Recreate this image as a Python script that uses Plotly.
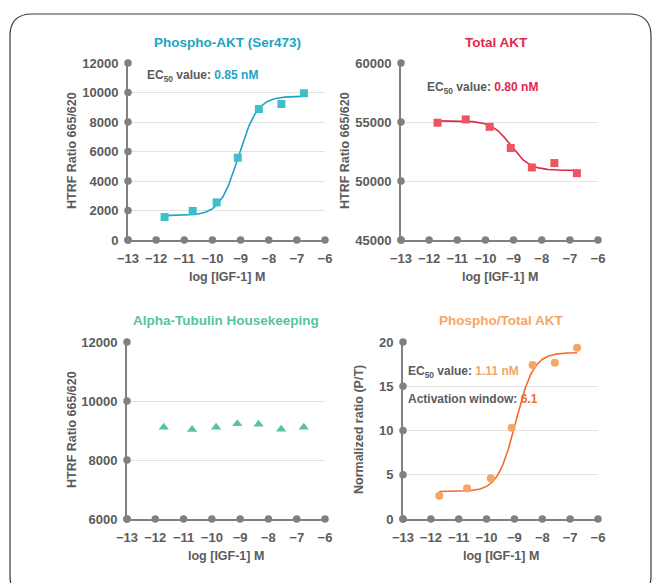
import numpy as np
import plotly.graph_objects as go

W, H = 656, 583

# ---- data -------------------------------------------------------------
log_conc = [-11.7, -10.7, -9.85, -9.1, -8.35, -7.55, -6.75]

phospho_akt = [1560, 1970, 2550, 5580, 8880, 9220, 9950]
total_akt = [54940, 55220, 54590, 52800, 51150, 51520, 50660]
tubulin = [9110, 9030, 9110, 9230, 9210, 9040, 9110]
ratio_pt = [2.63, 3.47, 4.6, 10.3, 17.4, 17.66, 19.36]

x_ticks = [-13, -12, -11, -10, -9, -8, -7, -6]
y_ticks_phospho = [0, 2000, 4000, 6000, 8000, 10000, 12000]
y_ticks_total = [45000, 50000, 55000, 60000]
y_ticks_tubulin = [6000, 8000, 10000, 12000]
y_ticks_ratio = [0, 5, 10, 15, 20]

# four-parameter logistic fits: (bottom, top, EC50 in nM, hill)
fit_phospho = (1650, 9750, 0.85, 1.3)
fit_total = (50900, 55100, 0.80, -1.3)
fit_ratio = (3.1, 18.8, 1.11, 1.35)
activation_window = 6.1

titles = ["Phospho-AKT (Ser473)", "Total AKT", "Alpha-Tubulin Housekeeping", "Phospho/Total AKT"]
y_titles = ["HTRF Ratio 665/620", "HTRF Ratio 665/620", "HTRF Ratio 665/620", "Normalized ratio (P/T)"]
x_title = "log [IGF-1] M"

# ---- styling ----------------------------------------------------------
TEAL, TEAL_L = "#1ea3c2", "#3dbfcc"
RED, RED_L = "#e2284a", "#ec5560"
GREEN = "#55c49c"
ORANGE, ORANGE_L = "#f36b2b", "#f5a566"
TXT = "#5b5b5b"
AX = "#808080"
GRID = "#e3e3e3"
FONT = "Liberation Sans, Arial, sans-serif"


def px(x):
    return x / W


def py(y):
    return 1 - y / H


def four_pl(x, bottom, top, ec50_nm, hill):
    log_ec50 = np.log10(ec50_nm * 1e-9)
    return bottom + (top - bottom) / (1 + 10 ** ((log_ec50 - x) * hill))


# panel plot areas in pixels: (left, right, top, bottom)
areas = [
    (128, 325, 63, 240),
    (401, 598, 63, 240),
    (127, 325, 342, 519),
    (403, 598, 342, 519),
]
y_ranges = [(0, 12000), (45000, 60000), (6000, 12000), (0, 20)]
y_tick_sets = [y_ticks_phospho, y_ticks_total, y_ticks_tubulin, y_ticks_ratio]

fig = go.Figure()
layout = {}
for i, (l, r, t, b) in enumerate(areas):
    n = "" if i == 0 else str(i + 1)
    layout["xaxis" + n] = dict(
        domain=[px(l), px(r)], range=[-13, -6], anchor="y" + n,
        tickvals=x_ticks, showgrid=False, zeroline=False, automargin=False,
        showline=True, linecolor=AX, linewidth=2,
        ticks="", ticklabelstandoff=5,
        tickfont=dict(family=FONT, size=13, color=TXT, weight="bold"),
    )
    layout["yaxis" + n] = dict(
        domain=[py(b), py(t)], range=list(y_ranges[i]), anchor="x" + n,
        tickvals=y_tick_sets[i], tickformat="d",
        showgrid=True, gridcolor=GRID, gridwidth=1, automargin=False,
        zeroline=False, showline=True, linecolor=AX, linewidth=2,
        ticks="", ticklabelstandoff=5,
        tickfont=dict(family=FONT, size=13, color=TXT, weight="bold"),
    )

    xa, ya = "x" + n, "y" + n
    # tick dots along both axes
    fig.add_trace(go.Scatter(
        x=x_ticks, y=[y_ranges[i][0]] * len(x_ticks), xaxis=xa, yaxis=ya,
        mode="markers", marker=dict(color=AX, size=7.5), cliponaxis=False,
        hoverinfo="skip", showlegend=False))
    fig.add_trace(go.Scatter(
        x=[-13] * len(y_tick_sets[i]), y=y_tick_sets[i], xaxis=xa, yaxis=ya,
        mode="markers", marker=dict(color=AX, size=7.5), cliponaxis=False,
        hoverinfo="skip", showlegend=False))

# fitted curves
xs = np.linspace(log_conc[0], log_conc[-1], 200)
for (fit, color, xa, ya) in [
    (fit_phospho, TEAL, "x", "y"),
    (fit_total, RED, "x2", "y2"),
    (fit_ratio, ORANGE, "x4", "y4"),
]:
    fig.add_trace(go.Scatter(
        x=xs, y=four_pl(xs, *fit), xaxis=xa, yaxis=ya, mode="lines",
        line=dict(color=color, width=1.6), hoverinfo="skip", showlegend=False))

# measured points
fig.add_trace(go.Scatter(x=log_conc, y=phospho_akt, xaxis="x", yaxis="y", mode="markers",
                         marker=dict(symbol="square", size=8, color=TEAL_L), showlegend=False))
fig.add_trace(go.Scatter(x=log_conc, y=total_akt, xaxis="x2", yaxis="y2", mode="markers",
                         marker=dict(symbol="square", size=8, color=RED_L), showlegend=False))
fig.add_trace(go.Scatter(x=log_conc, y=tubulin, xaxis="x3", yaxis="y3", mode="markers",
                         marker=dict(symbol="triangle-up", size=9, color=GREEN), showlegend=False))
fig.add_trace(go.Scatter(x=log_conc, y=ratio_pt, xaxis="x4", yaxis="y4", mode="markers",
                         marker=dict(symbol="circle", size=8, color=ORANGE_L), showlegend=False))

annotations = []


def label(text, x, y, color=TXT, xanchor="left", angle=0, size=12):
    annotations.append(dict(
        text=text, x=px(x), y=py(y), xref="paper", yref="paper",
        xanchor=xanchor, yanchor="middle", showarrow=False, textangle=angle,
        font=dict(family=FONT, size=size, color=color, weight="bold")))


# panel titles
title_colors = [TEAL, RED, GREEN, ORANGE_L]
title_pos = [(228, 42), (497, 42), (226, 320), (501, 320)]
for txt, c, (x, y) in zip(titles, title_colors, title_pos):
    label(txt, x, y, color=c, xanchor="center", size=13.5)

# axis titles
for (l, r, t, b) in areas:
    label(x_title, (l + r) / 2, b + 37, xanchor="center", size=12.5)
y_title_pos = [(72, 151), (345, 151), (72, 430), (359, 430)]
for txt, (x, y) in zip(y_titles, y_title_pos):
    label(txt, x, y, xanchor="center", angle=-90, size=12.5)


def ec50_text(value, color):
    return f"EC<sub>50</sub> value: <span style='color:{color}'>{value:.2f} nM</span>"


label(ec50_text(fit_phospho[2], TEAL), 145, 76)
label(ec50_text(fit_total[2], RED), 425, 88)
label(ec50_text(fit_ratio[2], ORANGE_L), 406, 372)
label(f"Activation window: <span style='color:{ORANGE}'>{activation_window:.1f}</span>", 406, 399)

# rounded frame
x0, x1, y0, y1 = px(10), px(651), py(14), py(598)
rx, ry = 22 / W, 22 / H
frame = (f"M {x0 + rx},{y0} L {x1 - rx},{y0} Q {x1},{y0} {x1},{y0 - ry} "
         f"L {x1},{y1 + ry} Q {x1},{y1} {x1 - rx},{y1} "
         f"L {x0 + rx},{y1} Q {x0},{y1} {x0},{y1 + ry} "
         f"L {x0},{y0 - ry} Q {x0},{y0} {x0 + rx},{y0} Z")

fig.update_layout(
    **layout,
    width=W, height=H, autosize=False,
    margin=dict(l=0, r=0, t=0, b=0, pad=0, autoexpand=False),
    paper_bgcolor="white", plot_bgcolor="white",
    annotations=annotations,
    shapes=[dict(type="path", path=frame, xref="paper", yref="paper",
                 line=dict(color="#3a3a3a", width=1.2), layer="below")],
    showlegend=False,
)

fig.write_html("out.html")
